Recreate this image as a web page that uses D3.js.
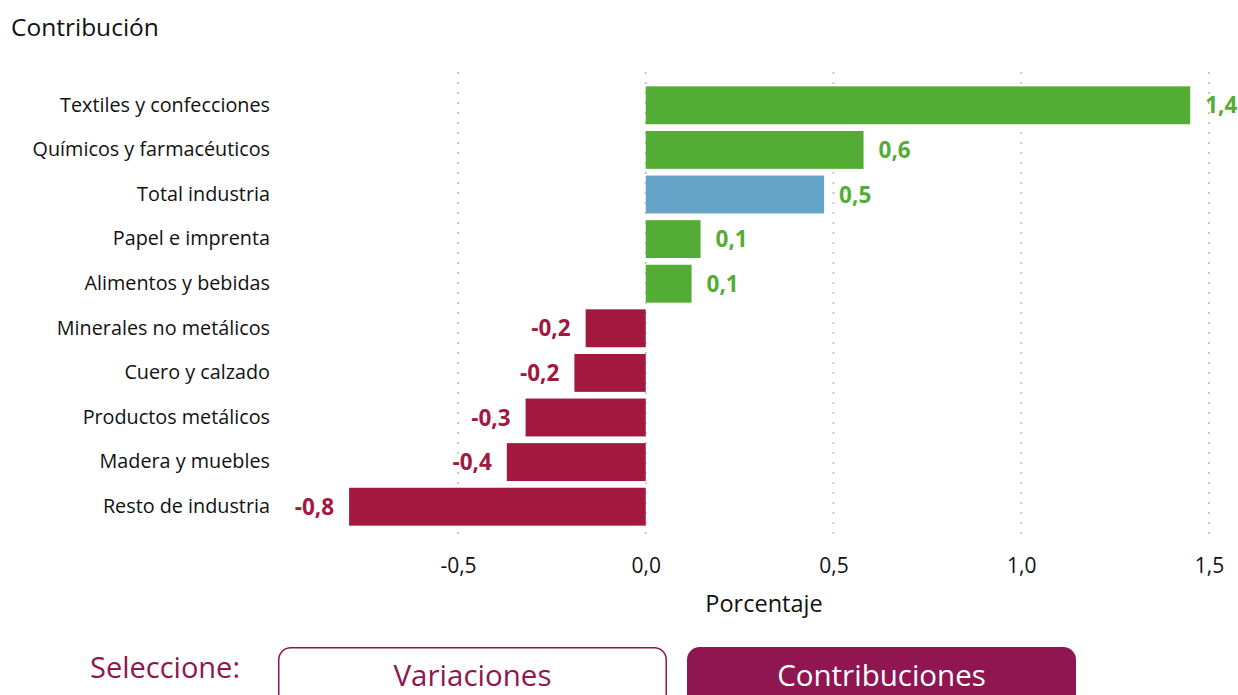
<!DOCTYPE html>
<html>
<head>
<meta charset="utf-8">
<script src="https://cdn.jsdelivr.net/npm/d3@7"></script>
<style>
	body { margin: 0; background: #fff; font-family: "Open Sans", "Noto Sans", sans-serif; }
	svg { display: block; }
</style>
</head>
<body>
<div id="chart-area"></div>
<script>
// Data
let categories = ["Textiles y confecciones", "Químicos y farmacéuticos", "Total industria",
	"Papel e imprenta", "Alimentos y bebidas", "Minerales no metálicos", "Cuero y calzado",
	"Productos metálicos", "Madera y muebles", "Resto de industria"];
let values = [1.45, 0.58, 0.475, 0.146, 0.122, -0.16, -0.19, -0.32, -0.37, -0.79];
let valueLabels = ["1,4", "0,6", "0,5", "0,1", "0,1", "-0,2", "-0,2", "-0,3", "-0,4", "-0,8"];
let tickValues = [-0.5, 0, 0.5, 1.0, 1.5];
let tickLabels = ["-0,5", "0,0", "0,5", "1,0", "1,5"];
let buttons = ["Variaciones", "Contribuciones"];

let data = categories.map((c, i) => ({category: c, value: values[i], label: valueLabels[i]}));

let width = 1238,
	height = 695;

let svg = d3.select("#chart-area").append("svg")
	.attr("width", width)
	.attr("height", height);

// Title
svg.append("text")
	.attr("x", 11)
	.attr("y", 36)
	.attr("font-size", 24.5)
	.attr("fill", "#111")
	.text("Contribución");

// Scales
let x = d3.scaleLinear()
	.domain([-0.5, 1.5])
	.range([458, 1209]);

let y = d3.scaleBand()
	.domain(categories)
	.range([83, 529])
	.paddingInner(0.15)
	.paddingOuter(0.075);

// Dotted gridlines
svg.append("g")
	.selectAll("line")
	.data(tickValues)
	.enter()
	.append("line")
	.attr("x1", d => x(d))
	.attr("x2", d => x(d))
	.attr("y1", 72)
	.attr("y2", 540)
	.attr("stroke", "#c8c8c8")
	.attr("stroke-width", 2)
	.attr("stroke-dasharray", "2,8");

// Bars
let green = "#53ad34", blue = "#65a3c9", red = "#a2183e";

svg.selectAll("rect.bar")
	.data(data)
	.enter()
	.append("rect")
	.attr("class", "bar")
	.attr("x", d => x(Math.min(0, d.value)))
	.attr("y", d => y(d.category))
	.attr("width", d => Math.abs(x(d.value) - x(0)))
	.attr("height", y.bandwidth())
	.attr("fill", d => d.category === "Total industria" ? blue : (d.value < 0 ? red : green));

// Value labels
svg.selectAll("text.value")
	.data(data)
	.enter()
	.append("text")
	.attr("class", "value")
	.attr("x", d => d.value < 0 ? x(d.value) - 15 : x(d.value) + 15)
	.attr("y", d => y(d.category) + y.bandwidth() / 2)
	.attr("dy", "0.36em")
	.attr("text-anchor", d => d.value < 0 ? "end" : "start")
	.attr("font-size", 22.5)
	.attr("font-weight", "bold")
	.attr("fill", d => d.value < 0 ? red : green)
	.text(d => d.label);

// Category axis
let yAxis = d3.axisLeft(y).tickSize(0).tickPadding(0);
svg.append("g")
	.attr("class", "y-axis")
	.attr("transform", "translate(270,0)")
	.call(yAxis)
	.call(g => g.select(".domain").remove())
	.call(g => g.selectAll("text")
		.attr("font-family", "'Open Sans', sans-serif")
		.attr("font-size", 19.8)
		.attr("fill", "#111"));

// Value axis
let xAxis = d3.axisBottom(x)
	.tickValues(tickValues)
	.tickFormat((d, i) => tickLabels[i])
	.tickSize(0)
	.tickPadding(0);
svg.append("g")
	.attr("class", "x-axis")
	.attr("transform", "translate(0,558)")
	.call(xAxis)
	.call(g => g.select(".domain").remove())
	.call(g => g.selectAll("text")
		.attr("font-family", "'Open Sans', sans-serif")
		.attr("font-size", 21)
		.attr("fill", "#111"));

svg.append("text")
	.attr("x", 764)
	.attr("y", 612)
	.attr("text-anchor", "middle")
	.attr("font-size", 23.5)
	.attr("fill", "#111")
	.text("Porcentaje");

// Selector
let purple = "#8f1650";
svg.append("text")
	.attr("x", 90)
	.attr("y", 678)
	.attr("font-size", 29)
	.attr("fill", purple)
	.text("Seleccione:");

let btnX = [278, 687], btnW = 389;
buttons.forEach((b, i) => {
	let active = i === 1;
	svg.append("rect")
		.attr("x", btnX[i] + 0.75)
		.attr("y", 647.75)
		.attr("width", btnW - 1.5)
		.attr("height", 60)
		.attr("rx", 12)
		.attr("fill", active ? purple : "#fff")
		.attr("stroke", purple)
		.attr("stroke-width", 1.5);
	svg.append("text")
		.attr("x", btnX[i] + btnW / 2)
		.attr("y", 686)
		.attr("text-anchor", "middle")
		.attr("font-size", 29.5)
		.attr("fill", active ? "#fff" : purple)
		.text(b);
});
</script>
</body>
</html>
